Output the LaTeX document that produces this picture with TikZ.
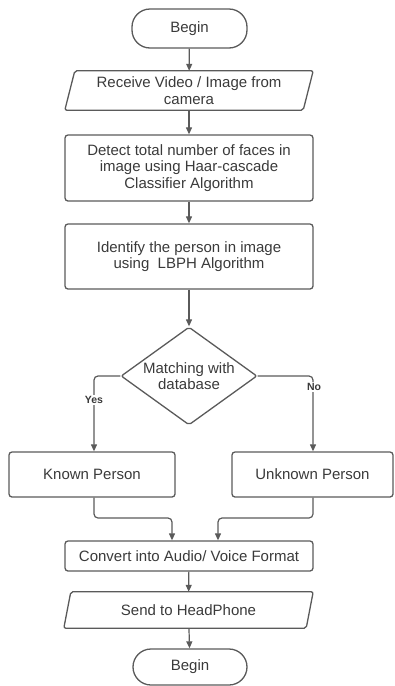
\documentclass[tikz,border=0pt]{standalone}
\usepackage{fontspec}
\setmainfont{Liberation Sans}
\usetikzlibrary{arrows.meta,shapes.geometric,calc}

\definecolor{linegray}{HTML}{5A5A5A}
\definecolor{textgray}{HTML}{3A3A3A}

\tikzset{
  base/.style={font=\fontsize{15}{16.5}\selectfont, text=textgray, align=center, inner sep=0pt},
  procbox/.style={base, draw=linegray, line width=1.3pt, rounded corners=3pt, rectangle},
  terminal/.style={base, draw=linegray, line width=1.3pt, rectangle, rounded corners=18pt},
  iobox/.style={base, rectangle},
  slanted/.style={draw=linegray, line width=1.3pt, rounded corners=2pt},
  decision/.style={base, draw=linegray, line width=1.3pt, diamond, aspect=1.39, rounded corners=2pt},
  arr/.style={draw=linegray, line width=1.2pt, rounded corners=4pt, -{Triangle[length=7pt,width=6pt]}},
  branch/.style={font=\fontsize{10.5}{12}\selectfont\bfseries, text=textgray, fill=white, inner sep=1pt},
}

\begin{document}
\begin{tikzpicture}[x=1pt, y=-1pt]
  \useasboundingbox (0,0) rectangle (395,686);

  % start terminal
  \node[terminal, minimum width=115pt, minimum height=39pt] (start) at (189.5,28.5) {Begin};

  % input: camera frame
  \node[iobox, minimum width=248pt, minimum height=39pt] (input) at (189,90.5)
    {Receive Video / Image from\\camera};
  \draw[slanted] ([xshift=10pt]input.north west) -- (input.north east)
    -- ([xshift=-10pt]input.south east) -- (input.south west) -- cycle;

  % face detection
  \node[procbox, minimum width=248pt, minimum height=66pt] (detect) at (189,168)
    {Detect total number of faces in\\image using Haar-cascade\\Classifier Algorithm};

  % recognition
  \node[procbox, minimum width=248pt, minimum height=65pt] (identify) at (189,256.5)
    {Identify the person in image\\using\ \ LBPH Algorithm};

  % database lookup
  \node[decision, minimum width=136pt, minimum height=98pt] (match) at (189,376)
    {Matching with\\database};

  % outcomes
  \node[procbox, minimum width=166pt, minimum height=45pt] (known) at (92,474.5) {Known Person};
  \node[procbox, minimum width=161pt, minimum height=45pt] (unknown) at (312.5,474.5) {Unknown Person};

  % speech output
  \node[procbox, minimum width=248pt, minimum height=30pt] (convert) at (189,556) {Convert into Audio/ Voice Format};

  \node[iobox, minimum width=249pt, minimum height=36pt] (send) at (188.5,610) {Send to HeadPhone};
  \draw[slanted] ([xshift=7pt]send.north west) -- (send.north east)
    -- ([xshift=-7pt]send.south east) -- (send.south west) -- cycle;

  % end terminal
  \node[terminal, minimum width=114pt, minimum height=36pt] (stop) at (190,667) {Begin};

  % helper points for the elbow connectors
  \coordinate (yesbend) at (94,376);
  \coordinate (nobend) at (313,376);
  \coordinate (kdown) at (94,518);
  \coordinate (udown) at (313,518);
  \coordinate (kin) at ([xshift=-17pt]convert.north);
  \coordinate (uin) at ([xshift=29pt]convert.north);

  % main flow
  \draw[arr] (start) -- (input);
  \draw[arr] (input) -- (detect);
  \draw[arr] (detect) -- (identify);
  \draw[arr] (identify) -- (match);

  % branches
  \draw[arr] (match.west) -- (yesbend) -- (yesbend |- known.north);
  \draw[arr] (match.east) -- (nobend) -- (nobend |- unknown.north);
  \node[branch] (yeslbl) at (94,400) {Yes};
  \node[branch] (nolbl) at (314,387) {No};

  % merge into conversion
  \draw[arr] (kdown |- known.south) -- (kdown) -- (kdown -| kin) -- (kin);
  \draw[arr] (udown |- unknown.south) -- (udown) -- (udown -| uin) -- (uin);

  \draw[arr] (convert) -- (send);
  \draw[arr] (send) -- (stop);
\end{tikzpicture}
\end{document}
